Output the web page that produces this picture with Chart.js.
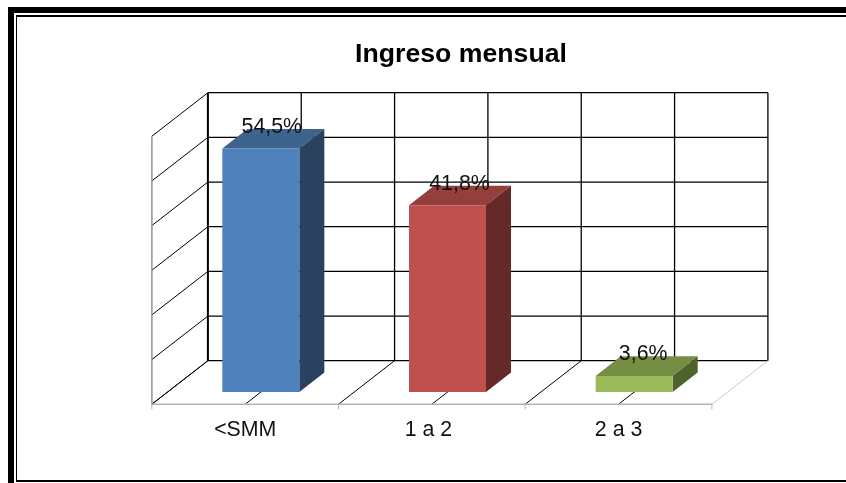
<!DOCTYPE html>
<html><head><meta charset="utf-8">
<style>
html,body{margin:0;padding:0;background:#fff;overflow:hidden;width:846px;height:483px}
.b{position:absolute;background:#000}
canvas{position:absolute;left:0;top:0}
</style>
<script src="https://cdn.jsdelivr.net/npm/chart.js@4"></script>
</head><body>
<div class="b" style="left:8px;top:7px;width:838px;height:6px"></div>
<div class="b" style="left:8px;top:7px;width:6px;height:476px"></div>
<div class="b" style="left:16px;top:15px;width:830px;height:2px"></div>
<div class="b" style="left:16px;top:15px;width:1.4px;height:467px"></div>
<div class="b" style="left:16px;top:480px;width:830px;height:2px"></div>
<canvas id="c" width="846" height="483"></canvas>
<script>
const titleText = "Ingreso mensual";
const categories = ["<SMM", "1 a 2", "2 a 3"];
const values = [54.5, 41.8, 3.6];
const valueLabels = ["54,5%", "41,8%", "3,6%"];
const frontColors = ["#4F81BD", "#C0504D", "#9BBB59"];
const topColors = ["#3E638F", "#953F3C", "#758E44"];
const sideColors = ["#2A4160", "#632A28", "#4F612C"];

const FONT = '"Liberation Sans", Arial, sans-serif';
const wall = {dx: 56, dy: 43.5};
const plane = {dx: 15.6, dy: 12.2};
const barDepth = {dx: 25, dy: 19.6};

function line(ctx, x1, y1, x2, y2, color, w) {
  ctx.strokeStyle = color; ctx.lineWidth = w;
  ctx.beginPath(); ctx.moveTo(x1, y1); ctx.lineTo(x2, y2); ctx.stroke();
}
function poly(ctx, pts, color) {
  ctx.fillStyle = color; ctx.beginPath();
  pts.forEach((p, i) => i ? ctx.lineTo(p[0], p[1]) : ctx.moveTo(p[0], p[1]));
  ctx.closePath(); ctx.fill();
}

const box3d = {
  id: "box3d",
  afterLayout(chart) {
    chart.titleBlock.left = 76;
    chart.titleBlock.right = 846;
  },
  beforeDraw(chart) {
    const items = chart.scales.x.getLabelItems();
    const shift = [0, -3.5, 0];
    items.forEach((it, i) => {
      if (!it.shifted) { it.options.translation[0] += shift[i]; it.shifted = true; }
    });
  },
  beforeDatasetsDraw(chart) {
    const ctx = chart.ctx, a = chart.chartArea, ys = chart.scales.y;
    const bx = wall.dx - plane.dx, by = wall.dy - plane.dy;
    const backL = a.left + bx, backR = a.right + bx;
    const fl = a.left - plane.dx, fr = a.right - plane.dx;
    const step = (a.right - a.left) / (categories.length * 2);
    ctx.save();
    ys.ticks.forEach(t => {
      const y = ys.getPixelForValue(t.value);
      const yb = y - by, yf = y + plane.dy;
      line(ctx, backL, yb, backR, yb, "#000", 1.3);
      line(ctx, fl, yf, backL, yb, "#000", 1);
    });
    for (let i = 0; i <= categories.length * 2; i++) {
      const xb = backL + i * step, xf = fl + i * step;
      const top = ys.getPixelForValue(ys.max) - by, bot = ys.getPixelForValue(0) - by;
      line(ctx, xb, top, xb, bot, "#000", i === 0 ? 2 : 1.3);
      const ff = ys.getPixelForValue(0) + plane.dy;
      if (i < categories.length * 2) line(ctx, xf, ff, xb, bot, "#000", 1);
      else line(ctx, xf, ff, xb, bot, "#c8c8c8", 1);
    }
    const ff = ys.getPixelForValue(0) + plane.dy;
    line(ctx, fl, ys.getPixelForValue(ys.max) + plane.dy, fl, ff, "#8a8a8a", 1.4);
    line(ctx, fl, ff, fr, ff, "#b4b4b4", 1.6);
    for (let i = 0; i <= categories.length; i++) {
      const x = fl + i * step * 2;
      line(ctx, x, ff, x, ff + 5, "#b4b4b4", 1);
    }
    chart.getDatasetMeta(0).data.forEach((el, i) => {
      const l = el.x - el.width / 2, r = el.x + el.width / 2, d = barDepth;
      poly(ctx, [[l, el.y], [r, el.y], [r + d.dx, el.y - d.dy], [l + d.dx, el.y - d.dy]], topColors[i]);
      poly(ctx, [[r, el.y], [r + d.dx, el.y - d.dy], [r + d.dx, el.base - d.dy], [r, el.base]], sideColors[i]);
    });
    ctx.restore();
  },
  afterDatasetsDraw(chart) {
    const ctx = chart.ctx;
    const shiftX = [11, 12, 9];
    ctx.save();
    ctx.font = "21.33px " + FONT;
    ctx.fillStyle = "#111";
    ctx.textAlign = "center"; ctx.textBaseline = "middle";
    chart.getDatasetMeta(0).data.forEach((el, i) => {
      ctx.fillText(valueLabels[i], el.x + shiftX[i], el.y - 21.5);
    });
    ctx.restore();
  }
};

new Chart(document.getElementById("c"), {
  type: "bar",
  data: {labels: categories, datasets: [{
    data: values, backgroundColor: frontColors, borderWidth: 0,
    categoryPercentage: 1, barPercentage: 0.4125
  }]},
  plugins: [box3d],
  options: {
    responsive: false, animation: false, devicePixelRatio: 1,
    layout: {padding: {left: 167.5, right: 118.5, top: 0, bottom: 15.4}},
    plugins: {
      legend: {display: false}, tooltip: {enabled: false},
      title: {display: true, text: titleText, color: "#000",
        font: {family: FONT, size: 26.67, weight: "bold", lineHeight: 1.2},
        padding: {top: 39, bottom: 53}}
    },
    scales: {
      x: {grid: {display: false, drawTicks: false}, border: {display: false},
        ticks: {color: "#111", padding: 25, maxRotation: 0, autoSkip: false, labelOffset: -15.6,
          font: {family: FONT, size: 21.33, lineHeight: 1.2}}},
      y: {display: false, min: 0, max: 60, ticks: {stepSize: 10}}
    }
  }
});
</script>
</body></html>
